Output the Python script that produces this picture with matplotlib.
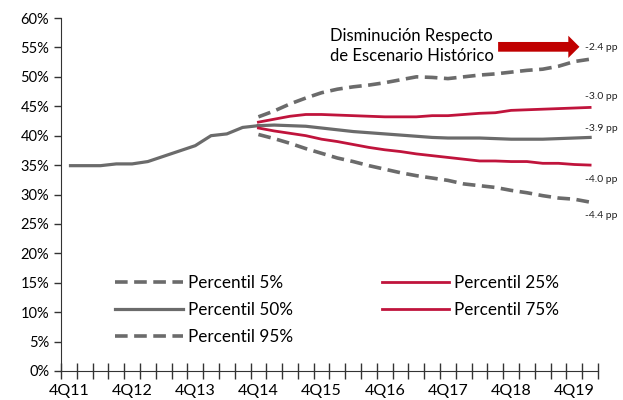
import matplotlib
matplotlib.use("Agg")
import matplotlib.pyplot as plt
import numpy as np

plt.rcParams['font.family'] = ['Lato', 'DejaVu Sans']

# trimestres 4Q11 .. 1Q20
trimestres = []
for anio in range(11, 21):
    for q in range(1, 5):
        trimestres.append(f"{q}Q{anio}")
trimestres = trimestres[3:37]

historico = [34.9, 34.9, 34.9, 35.2, 35.2, 35.6, 36.5, 37.4, 38.3, 40.0, 40.3, 41.4, 41.7]

# escenarios desde 4Q14
p_sup = [43.2, 44.2, 45.4, 46.4, 47.3, 47.9, 48.3, 48.6, 49.0, 49.5, 50.0,
         49.9, 49.7, 50.0, 50.3, 50.5, 50.8, 51.1, 51.3, 51.8, 52.6, 53.0]
p_rojo_sup = [42.3, 42.8, 43.3, 43.6, 43.6, 43.5, 43.4, 43.3, 43.2, 43.2, 43.2,
              43.4, 43.4, 43.6, 43.8, 43.9, 44.3, 44.4, 44.5, 44.6, 44.7, 44.8]
p_mediana = [41.7, 41.8, 41.7, 41.6, 41.3, 41.0, 40.7, 40.5, 40.3, 40.1, 39.9,
             39.7, 39.6, 39.6, 39.6, 39.5, 39.4, 39.4, 39.4, 39.5, 39.6, 39.7]
p_rojo_inf = [41.3, 40.8, 40.4, 40.0, 39.4, 39.0, 38.5, 38.0, 37.6, 37.3, 36.9,
              36.6, 36.3, 36.0, 35.7, 35.7, 35.6, 35.6, 35.3, 35.3, 35.1, 35.0]
p_inf = [40.2, 39.5, 38.7, 37.8, 37.0, 36.2, 35.6, 34.9, 34.3, 33.7, 33.2,
         32.8, 32.4, 31.8, 31.5, 31.2, 30.7, 30.3, 29.8, 29.4, 29.2, 28.7]

etiquetas_pp = ["-2.4 pp", "-3.0 pp", "-3.9 pp", "-4.0 pp", "-4.4 pp"]
pos_pp = [55.0, 46.7, 41.3, 32.5, 26.5]

gris = '#6b6b6b'
rojo = '#c0143c'

fig = plt.figure(figsize=(6.23, 4), dpi=100)
ax = fig.add_axes([61/623, 29/400, 537/623, 353/400])

x = np.arange(len(trimestres))
xh = x[:len(historico)]
xp = x[12:12 + len(p_sup)]

ax.plot(xh, historico, color=gris, lw=2.3, solid_capstyle='butt')
ax.plot(xp, p_sup, color=gris, lw=2.6, dashes=(3.5, 1.8), label='Percentil 5%')
ax.plot(xp, p_rojo_sup, color=rojo, lw=2.0, label='Percentil 25%')
ax.plot(xp, p_mediana, color=gris, lw=2.3, label='Percentil 50%')
ax.plot(xp, p_rojo_inf, color=rojo, lw=2.0, label='Percentil 75%')
ax.plot(xp, p_inf, color=gris, lw=2.6, dashes=(3.5, 1.8), label='Percentil 95%')

ax.set_xlim(-0.5, len(trimestres) - 0.5)
ax.set_ylim(0, 60)
ax.set_yticks(np.arange(0, 61, 5))
ax.set_yticklabels([f"{v}%" for v in range(0, 61, 5)], fontsize=10.5)
ax.set_xticks(np.arange(-0.5, len(trimestres), 1))
ax.set_xticklabels([])
ax.set_xticks(x[::4], minor=True)
ax.set_xticklabels(trimestres[::4], minor=True, fontsize=11.5)
ax.tick_params(axis='x', which='major', direction='inout', length=12, color='#333333', width=1)
ax.tick_params(axis='x', which='minor', length=0, pad=9)
ax.tick_params(axis='y', direction='out', length=5, color='#333333', width=1)

for s in ['top', 'right']:
    ax.spines[s].set_visible(False)
for s in ['left', 'bottom']:
    ax.spines[s].set_color('#333333')

handles, labels = ax.get_legend_handles_labels()
orden = [0, 2, 4, 1, 3]
ax.legend([handles[i] for i in orden], [labels[i] for i in orden], ncol=2,
          loc='upper left', bbox_to_anchor=(0.072, 0.315), frameon=False,
          fontsize=12.3, handlelength=3.95, columnspacing=5.2, labelspacing=0.64,
          handletextpad=0.3)

for txt, yv in zip(etiquetas_pp, pos_pp):
    ax.text(len(trimestres) - 1.3, yv, txt, fontsize=7.5, ha='left', va='center',
            color='#222222', clip_on=False)

ax.text(21.7, 55.3, "Disminución Respecto\nde Escenario Histórico", fontsize=12.0,
        ha='center', va='center', linespacing=1.3)
ax.annotate("", xy=(32.5, 55.1), xytext=(27.0, 55.1),
            arrowprops=dict(arrowstyle='simple,head_width=1.6,head_length=0.8,tail_width=0.7',
                            color='#c00000', lw=0))

fig.savefig("out.png", dpi=100)
